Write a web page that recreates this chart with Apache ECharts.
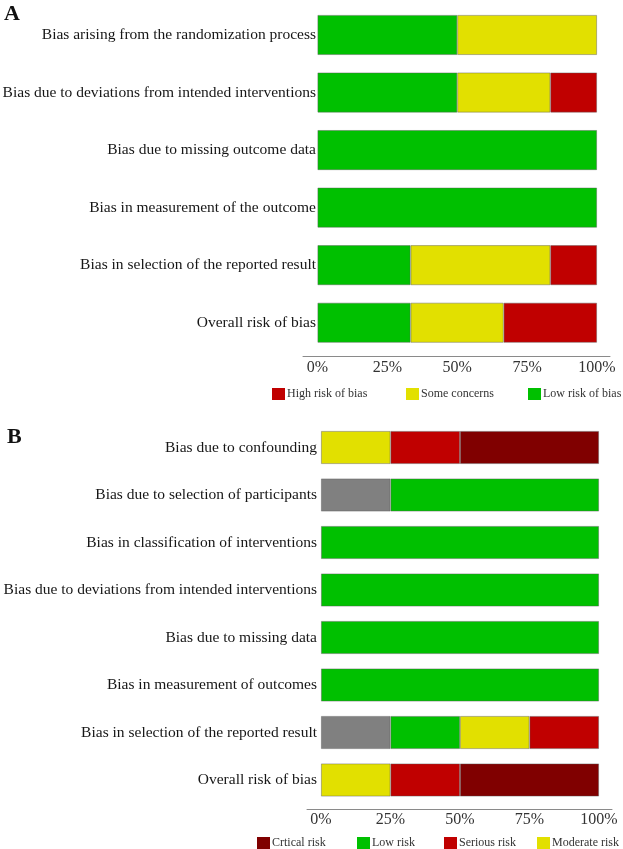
<!DOCTYPE html>
<html>
<head>
<meta charset="utf-8">
<script src="https://cdn.jsdelivr.net/npm/echarts@6/dist/echarts.min.js"></script>
<style>html,body{margin:0;padding:0;background:#fff;}#c{width:623px;height:849px;}</style>
</head>
<body>
<div id="c"></div>
<script>
// ---- Panel A data (RoB 2) ----
const catsA = [
  'Bias arising from the randomization process',
  'Bias due to deviations from intended interventions',
  'Bias due to missing outcome data',
  'Bias in measurement of the outcome',
  'Bias in selection of the reported result',
  'Overall risk of bias'
];
const lowA  = [50, 50, 100, 100, 33.3, 33.3];
const someA = [50, 33.3, 0, 0, 50, 33.3];
const highA = [0, 16.7, 0, 0, 16.7, 33.4];

// ---- Panel B data (ROBINS-I) ----
const catsB = [
  'Bias due to confounding',
  'Bias due to selection of participants',
  'Bias in classification of interventions',
  'Bias due to deviations from intended interventions',
  'Bias due to missing data',
  'Bias in measurement of outcomes',
  'Bias in selection of the reported result',
  'Overall risk of bias'
];
const noInfoB  = [0, 25, 0, 0, 0, 0, 25, 0];
const lowB     = [0, 75, 100, 100, 100, 100, 25, 0];
const modB     = [25, 0, 0, 0, 0, 0, 25, 25];
const seriousB = [25, 0, 0, 0, 0, 0, 25, 25];
const critB    = [50, 0, 0, 0, 0, 0, 0, 50];

const tickVals = [0, 25, 50, 75, 100];

const SERIF = 'Liberation Serif, Times New Roman, serif';
const C = {green:'#00c000', yellow:'#e2e000', red:'#c00000', dark:'#800000', gray:'#808080'};
const nz = arr => arr.map(v => v === 0 ? null : v);

function barSeries(name, data, color, gi, stack, bw) {
  return {
    name, type: 'bar', stack, xAxisIndex: gi, yAxisIndex: gi,
    data: nz(data), barWidth: bw,
    itemStyle: {color, borderColor: 'rgba(90,90,90,0.55)', borderWidth: 0.8},
    emphasis: {disabled: true}, animation: false
  };
}
function legendItem(name, left, top) {
  return {
    data: [name], left: left, top: top, padding: 0,
    icon: 'rect', itemWidth: 13, itemHeight: 12,
    itemStyle: {borderWidth: 0},
    textStyle: {fontFamily: SERIF, fontSize: 12, color: '#333', padding: [0, 0, 0, -3]},
    selectedMode: false
  };
}
function xAx(gi, min, max) {
  return {
    type: 'value', gridIndex: gi, min, max, offset: 5,
    axisLine: {show: true, lineStyle: {color: '#8a8a8a', width: 1}},
    axisTick: {show: false}, splitLine: {show: false},
    axisLabel: {customValues: tickVals, formatter: '{value}%', fontFamily: SERIF,
      fontSize: 16, color: '#333', margin: 3}
  };
}
function yAx(gi, cats, margin) {
  return {
    type: 'category', gridIndex: gi, data: cats, inverse: true,
    axisLine: {show: false}, axisTick: {show: false}, splitLine: {show: false},
    axisLabel: {fontFamily: SERIF, fontSize: 15.5, color: '#161616', margin}
  };
}

const chart = echarts.init(document.getElementById('c'), null, {renderer: 'canvas'});
chart.setOption({
  backgroundColor: '#fff',
  animation: false,
  title: [
    {text: 'A', left: 4, top: 3, padding: 0, textStyle: {fontFamily: SERIF, fontWeight: 'bold', fontSize: 22, color: '#111'}},
    {text: 'B', left: 7, top: 426, padding: 0, textStyle: {fontFamily: SERIF, fontWeight: 'bold', fontSize: 22, color: '#111'}}
  ],
  grid: [
    {left: 303, width: 307, top: 6.2, height: 345.3, containLabel: false, outerBoundsMode: 'none'},
    {left: 307, width: 305, top: 423.75, height: 380, containLabel: false, outerBoundsMode: 'none'}
  ],
  xAxis: [xAx(0, -5.19, 104.65), xAx(1, -5.04, 104.68)],
  yAxis: [yAx(0, catsA, -13), yAx(1, catsB, -10)],
  legend: [
    legendItem('High risk of bias', 272, 388),
    legendItem('Some concerns', 406, 388),
    legendItem('Low risk of bias', 528, 388),
    legendItem('Crtical risk', 257, 837),
    legendItem('Low risk', 357, 837),
    legendItem('Serious risk', 444, 837),
    legendItem('Moderate risk', 537, 837)
  ],
  series: [
    barSeries('Low risk of bias', lowA, C.green, 0, 'a', 40),
    barSeries('Some concerns', someA, C.yellow, 0, 'a', 40),
    barSeries('High risk of bias', highA, C.red, 0, 'a', 40),
    barSeries('No information', noInfoB, C.gray, 1, 'b', 33),
    barSeries('Low risk', lowB, C.green, 1, 'b', 33),
    barSeries('Moderate risk', modB, C.yellow, 1, 'b', 33),
    barSeries('Serious risk', seriousB, C.red, 1, 'b', 33),
    barSeries('Crtical risk', critB, C.dark, 1, 'b', 33)
  ]
});
</script>
</body>
</html>
